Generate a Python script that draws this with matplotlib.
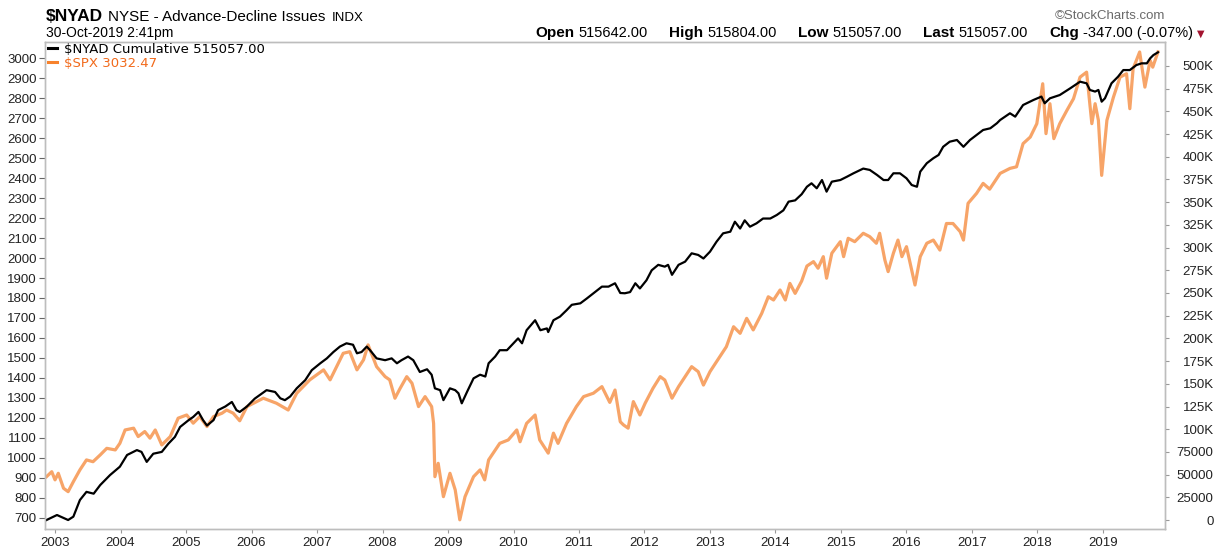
import matplotlib
matplotlib.use('Agg')
import matplotlib.pyplot as plt
from matplotlib.lines import Line2D
from matplotlib.ticker import FuncFormatter

plt.rcParams['font.family'] = ['Liberation Sans', 'DejaVu Sans']

# x axis: decimal years
year_ticks = list(range(2003, 2020))

# $SPX (left axis)
spx_t = [2002.87, 2002.95, 2003.00, 2003.05, 2003.13, 2003.20, 2003.28, 2003.38, 2003.48, 2003.58,
         2003.69, 2003.79, 2003.92, 2003.99, 2004.07, 2004.20, 2004.27, 2004.37, 2004.45, 2004.53,
         2004.63, 2004.76, 2004.88, 2005.01, 2005.11, 2005.21, 2005.32, 2005.42, 2005.55, 2005.62,
         2005.72, 2005.82, 2005.93, 2006.18, 2006.38, 2006.56, 2006.69, 2006.89, 2007.10, 2007.20,
         2007.40, 2007.50, 2007.61, 2007.71, 2007.78, 2007.91, 2008.04, 2008.11, 2008.19, 2008.27,
         2008.37, 2008.45, 2008.55, 2008.65, 2008.75, 2008.78, 2008.80, 2008.85, 2008.93, 2009.03,
         2009.11, 2009.18, 2009.26, 2009.39, 2009.49, 2009.56, 2009.62, 2009.79, 2009.92, 2010.05,
         2010.10, 2010.20, 2010.33, 2010.40, 2010.53, 2010.61, 2010.68, 2010.81, 2010.96, 2011.07,
         2011.22, 2011.35, 2011.47, 2011.55, 2011.63, 2011.68, 2011.75, 2011.83, 2011.93, 2012.01,
         2012.13, 2012.24, 2012.31, 2012.42, 2012.52, 2012.62, 2012.72, 2012.82, 2012.90, 2013.00,
         2013.15, 2013.25, 2013.36, 2013.46, 2013.56, 2013.66, 2013.79, 2013.89, 2013.97, 2014.07,
         2014.15, 2014.22, 2014.30, 2014.40, 2014.48, 2014.58, 2014.65, 2014.73, 2014.78, 2014.86,
         2014.99, 2015.04, 2015.11, 2015.21, 2015.34, 2015.44, 2015.54, 2015.59, 2015.67, 2015.72,
         2015.80, 2015.87, 2015.93, 2016.00, 2016.08, 2016.13, 2016.21, 2016.31, 2016.41, 2016.51,
         2016.61, 2016.71, 2016.82, 2016.87, 2016.94, 2017.07, 2017.17, 2017.27, 2017.43, 2017.58,
         2017.68, 2017.78, 2017.89, 2017.99, 2018.08, 2018.13, 2018.19, 2018.25, 2018.34, 2018.45,
         2018.55, 2018.65, 2018.75, 2018.83, 2018.88, 2018.93, 2018.98, 2019.06, 2019.16, 2019.26,
         2019.36, 2019.41, 2019.46, 2019.56, 2019.64, 2019.72, 2019.76, 2019.84]
spx = [905, 930, 889, 922, 847, 830, 880, 939, 989, 980,
       1014, 1047, 1039, 1072, 1139, 1148, 1106, 1131, 1098, 1139,
       1064, 1106, 1198, 1214, 1173, 1206, 1156, 1206, 1223, 1239,
       1223, 1185, 1256, 1298, 1273, 1239, 1323, 1390, 1440, 1390,
       1523, 1531, 1440, 1490, 1565, 1456, 1406, 1390, 1298, 1348,
       1406, 1373, 1256, 1306, 1256, 1172, 905, 972, 805, 922,
       839, 689, 805, 905, 939, 889, 989, 1072, 1089, 1139,
       1080, 1172, 1214, 1089, 1023, 1123, 1072, 1172, 1256, 1306,
       1323, 1356, 1277, 1339, 1180, 1164, 1148, 1281, 1214, 1273,
       1348, 1406, 1389, 1298, 1356, 1406, 1456, 1431, 1364, 1431,
       1506, 1556, 1656, 1623, 1698, 1640, 1723, 1806, 1790, 1840,
       1790, 1873, 1823, 1885, 1960, 1982, 1949, 2007, 1899, 2024,
       2082, 2007, 2099, 2082, 2124, 2107, 2074, 2124, 1990, 1932,
       2024, 2090, 2007, 2057, 1940, 1865, 2007, 2074, 2090, 2040,
       2173, 2173, 2132, 2090, 2274, 2324, 2374, 2345, 2424, 2449,
       2457, 2573, 2606, 2673, 2873, 2623, 2773, 2598, 2673, 2740,
       2798, 2906, 2931, 2673, 2773, 2690, 2414, 2690, 2806, 2906,
       2923, 2748, 2948, 3032, 2856, 2990, 2956, 3032.47]

# $NYAD cumulative (right axis), thousands
nyad_t = [2002.87, 2003.03, 2003.20, 2003.28, 2003.38, 2003.48, 2003.59, 2003.69, 2003.84, 2003.99,
          2004.10, 2004.25, 2004.32, 2004.40, 2004.50, 2004.63, 2004.73, 2004.83, 2004.91, 2005.04,
          2005.11, 2005.19, 2005.26, 2005.32, 2005.42, 2005.49, 2005.60, 2005.70, 2005.77, 2005.82,
          2005.93, 2006.05, 2006.23, 2006.36, 2006.44, 2006.51, 2006.59, 2006.69, 2006.82, 2006.92,
          2007.05, 2007.15, 2007.25, 2007.35, 2007.45, 2007.55, 2007.61, 2007.68, 2007.76, 2007.81,
          2007.91, 2008.04, 2008.14, 2008.22, 2008.29, 2008.39, 2008.47, 2008.57, 2008.68, 2008.75,
          2008.80, 2008.88, 2008.93, 2009.03, 2009.11, 2009.16, 2009.21, 2009.29, 2009.39, 2009.49,
          2009.57, 2009.62, 2009.72, 2009.79, 2009.90, 2010.00, 2010.07, 2010.13, 2010.20, 2010.33,
          2010.41, 2010.51, 2010.53, 2010.61, 2010.71, 2010.81, 2010.89, 2011.02, 2011.12, 2011.22,
          2011.35, 2011.45, 2011.55, 2011.63, 2011.70, 2011.78, 2011.86, 2011.93, 2012.03, 2012.11,
          2012.21, 2012.31, 2012.36, 2012.42, 2012.52, 2012.62, 2012.72, 2012.82, 2012.90, 2013.00,
          2013.10, 2013.20, 2013.31, 2013.38, 2013.46, 2013.53, 2013.61, 2013.71, 2013.81, 2013.92,
          2014.02, 2014.12, 2014.20, 2014.30, 2014.40, 2014.48, 2014.55, 2014.63, 2014.71, 2014.78,
          2014.86, 2014.99, 2015.09, 2015.19, 2015.34, 2015.44, 2015.55, 2015.65, 2015.72, 2015.80,
          2015.90, 2016.00, 2016.08, 2016.16, 2016.21, 2016.31, 2016.41, 2016.49, 2016.56, 2016.66,
          2016.77, 2016.87, 2016.97, 2017.07, 2017.17, 2017.28, 2017.38, 2017.43, 2017.58, 2017.66,
          2017.78, 2017.94, 2018.06, 2018.11, 2018.19, 2018.34, 2018.50, 2018.65, 2018.75, 2018.80,
          2018.88, 2018.93, 2018.98, 2019.03, 2019.13, 2019.23, 2019.31, 2019.41, 2019.51, 2019.59,
          2019.67, 2019.72, 2019.77, 2019.84]
nyad_k = [0, 5.5, 0, 3.7, 22, 31, 29, 38.5, 49.5, 58.7,
          71.6, 77, 75, 64, 73, 75, 84, 91.5, 102.5, 110,
          113.5, 119, 110, 104, 110, 121, 125, 130, 121, 119,
          125, 133.7, 143, 141, 134, 132, 136, 145, 154, 165,
          172.6, 178, 185, 191, 194.6, 193, 183.6, 185, 191, 187,
          178, 176, 178, 172.6, 176, 180, 176, 163, 166, 160,
          145, 143, 132, 145, 143, 139.5, 128.5, 141, 156, 160,
          158, 172.6, 180, 187, 187, 194.6, 200, 194.6, 209, 220,
          209, 211, 207, 220, 224, 231, 237, 238.6, 244, 249.7,
          257, 257, 260.7, 250, 249.7, 251, 260.7, 255, 264, 275,
          281, 279, 281, 270, 281, 284.5, 293.7, 291.9, 288, 295.5,
          306.5, 315.7, 317.5, 328.5, 321, 330, 323, 326.7, 332, 332,
          335.9, 341, 350.6, 352, 358.8, 367, 370.8, 365.3, 374.4, 361.6,
          372.6, 374.4, 378, 381.8, 387, 385.5, 380, 374.4, 374.4, 381.8,
          381.8, 376.3, 368.9, 367, 383.6, 392.9, 398.4, 402, 411, 416.6,
          418.5, 411, 418.5, 424, 429.5, 431.4, 436.9, 440.5, 447.9, 444.2,
          457, 462.6, 466.3, 458.9, 464.4, 468, 475.4, 482.7, 480.9, 473.6,
          471.8, 473.6, 460.7, 464.4, 480.9, 488.2, 495.5, 495.5, 501, 502.9,
          502.9, 508.4, 512, 515.057]

spx_ticks = list(range(700, 3001, 100))
nyad_ticks = list(range(0, 500001, 25000))

header_stats = [('Open', '515642.00'), ('High', '515804.00'), ('Low', '515057.00'),
                ('Last', '515057.00'), ('Chg', '-347.00 (-0.07%)')]

W, H = 1218, 549
fig = plt.figure(figsize=(W / 100, H / 100), dpi=100)
ax = fig.add_axes([45 / W, 1 - 529 / H, 1120 / W, 487 / H])
ax2 = ax.twinx()

ax.plot(spx_t, spx, color='#f7a468', lw=2.3, solid_joinstyle='round')
ax2.plot(nyad_t, [v * 1000 for v in nyad_k], color='black', lw=1.6, solid_joinstyle='round')

ax.set_xlim(2002.847, 2019.947)
ax.set_ylim(643, 3082)
ax2.set_ylim(-9900, 526400)

ax.set_xticks(year_ticks)
ax.set_xticklabels([str(y) for y in year_ticks])
ax.set_yticks(spx_ticks)
ax2.set_yticks(nyad_ticks)
ax2.yaxis.set_major_formatter(FuncFormatter(
    lambda v, p: f'{int(v / 1000)}K' if v >= 100000 else f'{int(v)}'))

for a in (ax, ax2):
    for s in a.spines.values():
        s.set_color('#bdbdbd')
        s.set_linewidth(1)

ax.tick_params(axis='x', length=3, color='#999999', labelsize=9.5, labelcolor='#222222', pad=3)
ax.tick_params(axis='y', length=4, color='#666666', labelsize=9.5, labelcolor='#222222', pad=2)
ax2.tick_params(axis='y', length=3, color='#999999', labelsize=9.5, labelcolor='#222222', pad=32)
for t in ax2.yaxis.get_major_ticks():
    t.label2.set_horizontalalignment('right')

# legend
handles = [Line2D([], [], color='black', lw=2.2), Line2D([], [], color='#f7822c', lw=2.2)]
leg = ax2.legend(handles, ['$NYAD Cumulative 515057.00', '$SPX 3032.47'],
                 loc='upper left', bbox_to_anchor=(48 / W, 1 - 43 / H),
                 bbox_transform=fig.transFigure, frameon=False,
                 handlelength=0.7, handletextpad=0.5, borderpad=0, borderaxespad=0,
                 labelspacing=0.05, prop={'family': 'DejaVu Sans', 'size': 9.5})
leg.get_texts()[1].set_color('#f26a1b')


def px(x, y):
    return x / W, 1 - y / H


# header left
fig.text(*px(46, 21), '$NYAD', fontsize=12.5, fontweight='bold', va='baseline')
fig.text(*px(108, 21), 'NYSE - Advance-Decline Issues', fontsize=11, va='baseline')
fig.text(*px(332, 21), 'INDX', fontsize=9.5, va='baseline')
fig.text(*px(46, 37), '30-Oct-2019 2:41pm', fontsize=10, va='baseline')

# header right
fig.text(*px(1165, 19), '\u00a9StockCharts.com', fontsize=9.5, color='#6a6a6a', ha='right', va='baseline')

renderer = fig.canvas.get_renderer()
items = []
for label, value in header_stats:
    items.append(fig.text(0, 0, label, fontsize=11, fontweight='bold', va='baseline'))
    items.append(fig.text(0, 0, value, fontsize=10.5, va='baseline'))
widths = [t.get_window_extent(renderer).width for t in items]
x0, x1 = 535, 1193
gap_in = 4
gap_out = (x1 - x0 - sum(widths) - gap_in * len(header_stats)) / (len(header_stats) - 1)
x = x0
for i, t in enumerate(items):
    t.set_position(px(x, 37))
    x += widths[i] + (gap_in if i % 2 == 0 else gap_out)
fig.text(*px(1197, 37), '\u25bc', fontsize=7, color='#a3132f', va='baseline', family='DejaVu Sans')

fig.savefig('out.png', dpi=100)
